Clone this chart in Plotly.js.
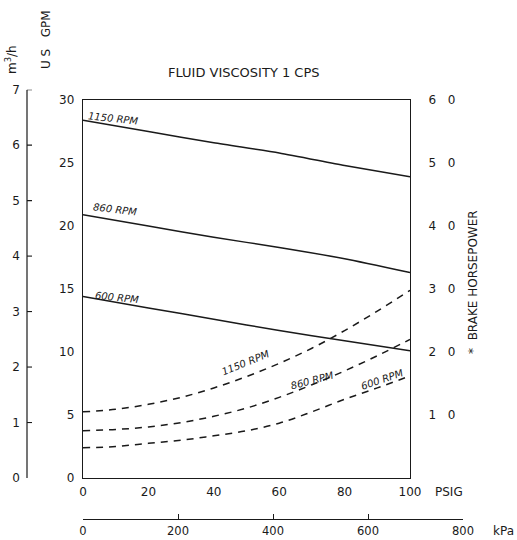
<!DOCTYPE html>
<html>
<head>
<meta charset="utf-8">
<script src="https://cdn.plot.ly/plotly-3.0.1.min.js"></script>
<style>html,body{margin:0;padding:0;background:#fff;}#chart{width:517px;height:540px;}</style>
</head>
<body>
<div id="chart"></div>
<script>
// ---- data ----
const psi = [0, 20, 40, 60, 80, 100];
const gpm1150 = [28.4, 27.5, 26.6, 25.8, 24.8, 23.9];
const gpm860  = [20.9, 20.0, 19.1, 18.3, 17.4, 16.3];
const gpm600  = [14.4, 13.5, 12.6, 11.7, 10.9, 10.1];

const psiHp = [0, 10, 20, 30, 40, 50, 60, 70, 80, 90, 100];
const hp1150 = [1.05, 1.09, 1.17, 1.28, 1.43, 1.61, 1.82, 2.06, 2.34, 2.65, 2.98];
const hp860  = [0.75, 0.77, 0.81, 0.88, 0.98, 1.11, 1.28, 1.48, 1.70, 1.94, 2.20];
const hp600  = [0.48, 0.50, 0.55, 0.60, 0.67, 0.75, 0.87, 1.05, 1.25, 1.43, 1.62];

const gpmTicks = [0, 5, 10, 15, 20, 25, 30];
const hpTicks = [1, 2, 3, 4, 5, 6];
const hpTickText = ["1\u00a0\u00a0\u00a00", "2\u00a0\u00a0\u00a00", "3\u00a0\u00a0\u00a00", "4\u00a0\u00a0\u00a00", "5\u00a0\u00a0\u00a00", "6\u00a0\u00a0\u00a00"];
const m3hTicks = [0, 1, 2, 3, 4, 5, 6, 7];
const psiTicks = [0, 20, 40, 60, 80, 100];
const kpaTicks = [0, 200, 400, 600, 800];

const GPM_PER_M3H = 4.402868;
const KPA_PER_PSI = 6.894757;

// ---- layout geometry (pixels -> paper) ----
const W = 517, H = 540;
const mL = 20, mR = 54, mT = 60, mB = 21;
const pw = W - mL - mR, ph = H - mT - mB;
const px = x => (x - mL) / pw;
const py = y => (H - mB - y) / ph;

const yBot = py(478), yTop = py(100);
const m3hTop = yBot + (yTop - yBot) * (7 * GPM_PER_M3H / 30);

const ink = '#1a1a1a';
const font = {family: 'DejaVu Sans', size: 12, color: ink};

const solid = {color: ink, width: 1.5, shape: 'spline', smoothing: 0.6};
const dashed = {color: ink, width: 1.5, dash: '7px,6px', shape: 'spline'};

const traces = [
  {x: psi, y: gpm1150, mode: 'lines', line: solid, xaxis: 'x', yaxis: 'y', hoverinfo: 'skip'},
  {x: psi, y: gpm860,  mode: 'lines', line: solid, xaxis: 'x', yaxis: 'y', hoverinfo: 'skip'},
  {x: psi, y: gpm600,  mode: 'lines', line: solid, xaxis: 'x', yaxis: 'y', hoverinfo: 'skip'},
  {x: psiHp, y: hp1150, mode: 'lines', line: dashed, xaxis: 'x', yaxis: 'y2', hoverinfo: 'skip'},
  {x: psiHp, y: hp860,  mode: 'lines', line: dashed, xaxis: 'x', yaxis: 'y2', hoverinfo: 'skip'},
  {x: psiHp, y: hp600,  mode: 'lines', line: dashed, xaxis: 'x', yaxis: 'y2', hoverinfo: 'skip'},
  // helper traces so the secondary unit axes are drawn
  {x: [0, 100], y: [0, 7], mode: 'lines', opacity: 0, line: {width: 0}, xaxis: 'x', yaxis: 'y3', hoverinfo: 'skip'},
  {x: [0, 100 * KPA_PER_PSI], y: [0, 30], mode: 'lines', opacity: 0, line: {width: 0}, xaxis: 'x2', yaxis: 'y', hoverinfo: 'skip'}
];

function ann(text, x, y, opts) {
  return Object.assign({text: text, xref: 'paper', yref: 'paper', x: px(x), y: py(y),
    xanchor: 'center', yanchor: 'middle', showarrow: false, font: font}, opts || {});
}
const lblFont = {family: 'DejaVu Sans', size: 10, color: ink, style: 'italic'};

// m3/h axis line and its inward ticks
const m3hShapes = [
  {type: 'line', xref: 'paper', yref: 'y3', x0: px(27), x1: px(27), y0: 0, y1: m3hTicks[m3hTicks.length - 1],
   line: {color: ink, width: 1.2}, layer: 'above'}
].concat(m3hTicks.slice(1).map(v => ({type: 'line', xref: 'paper', yref: 'y3', x0: px(27), x1: px(32), y0: v, y1: v,
   line: {color: ink, width: 1.1}, layer: 'above'})));

const layout = {
  width: W, height: H,
  margin: {l: mL, r: mR, t: mT, b: mB, pad: 0},
  paper_bgcolor: '#fff', plot_bgcolor: 'rgba(0,0,0,0)',
  showlegend: false,
  font: font,
  xaxis: {domain: [px(83), px(410)], range: [0, 100], tickvals: psiTicks, showgrid: false, zeroline: false,
    showline: true, mirror: true, linecolor: ink, linewidth: 1.2, ticks: '', ticklabelstandoff: 2,
    tickfont: font, automargin: false, fixedrange: true},
  xaxis2: {domain: [px(83), 1], range: [0, 800], tickvals: kpaTicks, anchor: 'free', position: 0, side: 'bottom',
    showgrid: false, zeroline: false, showline: true, linecolor: ink, linewidth: 1.2,
    ticks: 'inside', ticklen: 5, tickcolor: ink, ticklabelstandoff: 1, tickfont: {family: 'DejaVu Sans', size: 11.5, color: ink}, automargin: false},
  yaxis: {domain: [yBot, yTop], range: [0, 30], tickvals: gpmTicks, showgrid: false, zeroline: false,
    showline: true, mirror: true, linecolor: ink, linewidth: 1.2, ticks: '', ticklabelstandoff: 5,
    tickfont: font, automargin: false},
  yaxis2: {overlaying: 'y', side: 'right', anchor: 'x', range: [0, 6], tickvals: hpTicks, ticktext: hpTickText,
    showgrid: false, zeroline: false, showline: true, linecolor: ink, linewidth: 1.2, ticks: '',
    ticklabelstandoff: 15, tickfont: font, automargin: false},
  yaxis3: {domain: [yBot, m3hTop], range: [0, 7], tickvals: m3hTicks, anchor: 'free', position: px(27), side: 'left',
    showgrid: false, zeroline: false, showline: false, ticks: '', ticklabelstandoff: 7, tickfont: font, automargin: false},
  shapes: m3hShapes,
  annotations: [
    ann('FLUID VISCOSITY 1 CPS', 244, 72, {font: {family: 'DejaVu Sans', size: 13, color: ink}}),
    ann('U S\u00a0\u00a0\u00a0GPM', 46, 40, {textangle: -90}),
    ann('m<sup>3</sup>/h', 11, 60, {textangle: -90}),
    ann('*\u00a0\u00a0BRAKE HORSEPOWER', 473, 282, {textangle: -90}),
    ann('PSIG', 449, 492),
    ann('kPa', 503, 531),
    ann('1150 RPM', 113, 118, {textangle: 6, font: lblFont}),
    ann('860 RPM', 115, 210, {textangle: 7, font: lblFont}),
    ann('600 RPM', 117, 297, {textangle: 6, font: lblFont}),
    ann('1150 RPM', 246, 362, {textangle: -22, font: lblFont}),
    ann('860 RPM', 312, 380, {textangle: -15, font: lblFont}),
    ann('600 RPM', 382, 379, {textangle: -19, font: lblFont})
  ]
};

Plotly.newPlot('chart', traces, layout, {staticPlot: true, displayModeBar: false});
</script>
</body>
</html>
